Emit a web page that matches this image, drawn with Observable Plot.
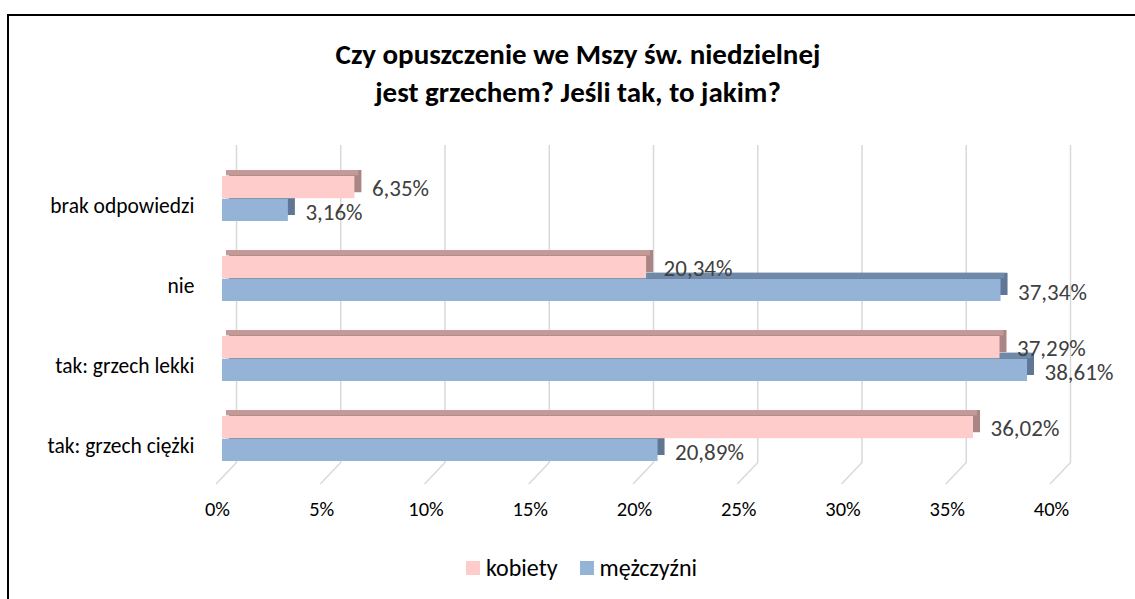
<!DOCTYPE html>
<html><head><meta charset="utf-8">
<script src="https://cdn.jsdelivr.net/npm/d3@7"></script>
<script src="https://cdn.jsdelivr.net/npm/@observablehq/plot@0.6"></script>
<style>
body{margin:0;background:#fff;}
#wrap{position:relative;width:1135px;height:599px;overflow:hidden;font-family:Carlito,Lato,sans-serif;background:#fff;}
#border{position:absolute;left:7px;top:14px;width:1200px;height:700px;border-top:2px solid #000;border-left:2px solid #000;}
#chart{position:absolute;left:0;top:0;}
#title{position:absolute;left:0;width:1156px;top:35px;text-align:center;font-weight:bold;font-size:29px;line-height:38px;color:#000;}
#legend{position:absolute;top:553px;left:14px;width:1135px;display:flex;justify-content:center;align-items:center;font-size:24px;color:#000;}
.item{display:flex;align-items:center;margin:0 11px;}
.sw{width:14px;height:14px;margin-right:6px;}
</style></head>
<body>
<div id="wrap">
  <div id="border"></div>
  <div id="chart"></div>
  <div id="title">Czy opuszczenie we Mszy św. niedzielnej<br>jest grzechem? Jeśli tak, to jakim?</div>
  <div id="legend"></div>
</div>
<script>
const categories = ["brak odpowiedzi", "nie", "tak: grzech lekki", "tak: grzech ciężki"];
const seriesNames = ["kobiety", "mężczyźni"];
const kobiety = [6.35, 20.34, 37.29, 36.02];
const mezczyzni = [3.16, 37.34, 38.61, 20.89];
const xTicks = [0, 5, 10, 15, 20, 25, 30, 35, 40];
const xTickLabels = ["0%", "5%", "10%", "15%", "20%", "25%", "30%", "35%", "40%"];

const colors = {
  kobiety: {front: "#ffcccc", top: "#c49a98", side: "#a98583"},
  mezczyzni: {front: "#95b3d7", top: "#7189a8", side: "#5f7694"}
};

const fmt = v => v.toFixed(2).replace(".", ",") + "%";
const pinkData = categories.map((c, i) => ({category: c, value: kobiety[i], label: fmt(kobiety[i])}));
const blueData = categories.map((c, i) => ({category: c, value: mezczyzni[i], label: fmt(mezczyzni[i])}));

const W = 1135, H = 540, mt = 140, mb = 43, ml = 222, mr = 79;
const pad = 0.434;
const step = (H - mt - mb) / (categories.length + pad);
const bw = step * (1 - pad);
const half = bw / 2;
const depthX = 7, depthY = -6;

const lineShape = {draw(ctx, l) { ctx.moveTo(0, 0); ctx.lineTo(0, -l); }};

const chart = Plot.plot({
  width: W, height: H,
  marginTop: mt, marginBottom: mb, marginLeft: ml, marginRight: mr,
  style: {fontFamily: "Carlito, Lato, sans-serif", background: "transparent", overflow: "visible"},
  x: {domain: [0, 40], label: null},
  y: {domain: categories, padding: pad, label: null},
  marks: [
    Plot.ruleX(xTicks, {x: d => d, dx: 14, insetTop: 5, insetBottom: 35, stroke: "#d9d9d9", strokeWidth: 1.5}),
    Plot.vector(xTicks, {x: d => d, frameAnchor: "bottom", dx: -6, dy: -14, length: 29, rotate: 43.6, anchor: "start", shape: lineShape, stroke: "#d9d9d9", strokeWidth: 1.5, fill: "none"}),
    // men: back faces
    Plot.barX(blueData, {x: "value", y: "category", insetTop: half, dx: depthX, dy: depthY, fill: colors.mezczyzni.side}),
    Plot.barX(blueData, {x: "value", y: "category", insetTop: half, insetBottom: half + depthY, dx: 4, dy: depthY, fill: colors.mezczyzni.top}),
    // women: back faces
    Plot.barX(pinkData, {x: "value", y: "category", insetBottom: half, dx: depthX, dy: depthY, fill: colors.kobiety.side}),
    Plot.barX(pinkData, {x: "value", y: "category", insetBottom: bw + depthY, dx: 4, dy: depthY, fill: colors.kobiety.top}),
    // front faces
    Plot.barX(pinkData, {x: "value", y: "category", insetBottom: half, fill: colors.kobiety.front}),
    Plot.barX(blueData, {x: "value", y: "category", insetTop: half, fill: colors.mezczyzni.front}),
    // labels
    Plot.text(pinkData, {x: "value", y: "category", text: "label", dx: 17, dy: -half / 2 + 1.5, textAnchor: "start", fill: "#404040", fontSize: 23}),
    Plot.text(blueData, {x: "value", y: "category", text: "label", dx: 17, dy: half / 2 + 2.5, textAnchor: "start", fill: "#404040", fontSize: 23}),
    Plot.axisX(xTicks, {tickSize: 0, tickPadding: 4, dx: -5, fontSize: 20.5, fill: "#000", tickFormat: d => xTickLabels[xTicks.indexOf(d)], label: null}),
    Plot.axisY({tickSize: 0, tickPadding: 28, dy: 7, fontSize: 21.5, fill: "#000", label: null})
  ]
});
document.getElementById("chart").appendChild(chart);

const legend = document.getElementById("legend");
const legendColors = [colors.kobiety.front, colors.mezczyzni.front];
seriesNames.forEach((s, i) => {
  const it = document.createElement("div");
  it.className = "item";
  const sw = document.createElement("div");
  sw.className = "sw";
  sw.style.background = legendColors[i];
  const t = document.createElement("span");
  t.textContent = s;
  it.appendChild(sw); it.appendChild(t);
  legend.appendChild(it);
});
</script>
</body></html>
